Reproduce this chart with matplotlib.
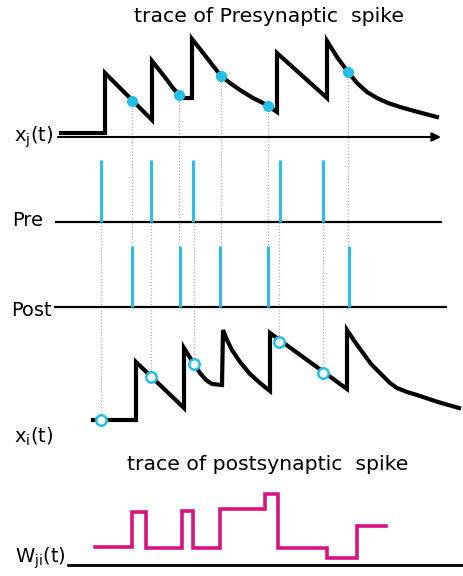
import matplotlib
matplotlib.use("Agg")
import matplotlib.pyplot as plt
import numpy as np

# ---------------- data (time in arbitrary units, amplitudes above each baseline) -----
pre_spikes = [101, 151, 193, 280, 323]
post_spikes = [132, 180, 220, 268, 349]

# presynaptic trace x_j(t)
xj_t = [61, 105, 105, 152, 152, 160, 167, 173, 179, 183, 192, 192, 200, 207, 214,
        221, 230, 240, 253, 267, 277, 277, 327, 327, 337, 348, 357, 367, 377, 388,
        400, 418, 437]
xj_v = [4, 4, 64, 17, 76, 66, 57, 49, 42, 39, 39, 98, 88, 79, 70,
        61, 54, 47, 39, 32, 25, 84, 39, 96, 80, 65, 54, 45, 39, 34,
        30, 25, 20]
# values of x_j read at post spikes
xj_mark_t = [132, 179, 221, 268, 348]
xj_mark_v = [36, 42, 61, 31, 65]

# postsynaptic trace x_i(t)
xi_t = [93, 136, 136, 184, 184, 189, 194, 200, 206, 212, 222, 223, 227, 232, 240,
        250, 260, 270, 270, 347, 347, 355, 363, 371, 380, 390, 397, 407, 417, 438,
        459]
xi_v = [17, 17, 75, 29, 89, 81, 73, 64, 57, 53, 52, 107, 97, 87, 75,
        63, 54, 46, 104, 48, 107, 95, 84, 73, 64, 54, 49, 45, 42, 35,
        29]
# values of x_i read at pre spikes
xi_mark_t = [101, 151, 194, 279, 323]
xi_mark_v = [17, 60, 73, 95, 64]

# weight W_ji(t)
w_t = [95, 132, 146, 182, 193, 220, 265, 278, 327, 357, 386]
w_v = [18, 53, 17, 54, 17, 56, 71, 17, 7, 39, 39]

labels = ["x$_\\mathregular{j}$(t)", "Pre", "Post", "x$_\\mathregular{i}$(t)",
          "W$_\\mathregular{ji}$(t)"]
titles = ["trace of Presynaptic  spike", "trace of postsynaptic  spike"]

# ---------------- layout ----------------
Y_XJ, Y_PRE, Y_POST, Y_XI, Y_W = 137, 222, 307, 437, 565
SPIKE_H = 62
CYAN = "#25bfe3"
SPIKE_C = "#2cbdeb"
MAG = "#d6137f"
GREY = "#b0b0b0"

fig = plt.figure(figsize=(4.64, 5.76), dpi=100)
ax = fig.add_axes([0, 0, 1, 1])
ax.set_xlim(0, 464)
ax.set_ylim(576, 0)
ax.axis("off")

# dotted guide lines
ax.vlines(xj_mark_t, [Y_XJ - v for v in xj_mark_v], Y_POST - SPIKE_H + 1,
          colors=GREY, linestyles=(0, (1, 1.5)), lw=0.9, zorder=1)
ax.vlines(xi_mark_t, Y_PRE, [Y_XI - v for v in xi_mark_v],
          colors=GREY, linestyles=(0, (1, 1.5)), lw=0.9, zorder=1)

# axes lines
arrow = dict(arrowstyle="-|>", lw=1.5, color="black", mutation_scale=13,
             shrinkA=0, shrinkB=0)
ax.annotate("", xy=(441, Y_XJ), xytext=(58, Y_XJ), arrowprops=arrow)
ax.annotate("", xy=(466, Y_XI), xytext=(57, Y_XI), arrowprops=arrow)
ax.plot([56, 441], [Y_PRE, Y_PRE], color="black", lw=1.6)
ax.plot([55, 446], [Y_POST, Y_POST], color="black", lw=1.6)
ax.plot([68, 464], [Y_W, Y_W], color="black", lw=2.0)

# traces
ax.plot(xj_t, [Y_XJ - v for v in xj_v], color="black", lw=3.0,
        solid_joinstyle="miter", zorder=3)
ax.plot(xi_t, [Y_XI - v for v in xi_v], color="black", lw=3.0,
        solid_joinstyle="miter", zorder=3)
ax.plot(xj_mark_t, [Y_XJ - v for v in xj_mark_v], "o", color=CYAN, ms=7,
        mec=CYAN, zorder=4)
ax.plot(xi_mark_t, [Y_XI - v for v in xi_mark_v], "o", mfc="white", mec=CYAN,
        ms=7.5, mew=1.8, zorder=4)

# spikes
ax.vlines(pre_spikes, Y_PRE - SPIKE_H, Y_PRE, colors=SPIKE_C, lw=2.2, zorder=2)
ax.vlines(post_spikes, Y_POST - SPIKE_H + 1, Y_POST, colors=SPIKE_C, lw=2.2, zorder=2)

# weight
ax.step(w_t, [Y_W - v for v in w_v], where="post", color=MAG, lw=2.6,
        solid_joinstyle="miter", zorder=3)

# text
fs = 14
ax.text(34, Y_XJ, labels[0], fontsize=fs, ha="center", va="center")
ax.text(12, Y_PRE - 1, labels[1], fontsize=fs, ha="left", va="center")
ax.text(11, Y_POST + 3, labels[2], fontsize=fs, ha="left", va="center")
ax.text(34, Y_XI, labels[3], fontsize=fs, ha="center", va="center")
ax.text(40, Y_W - 7, labels[4], fontsize=fs, ha="center", va="center")
ax.text(269, 17, titles[0], fontsize=14.7, ha="center", va="center")
ax.text(268, 465, titles[1], fontsize=14.7, ha="center", va="center")

fig.savefig("out.png", dpi=100)
